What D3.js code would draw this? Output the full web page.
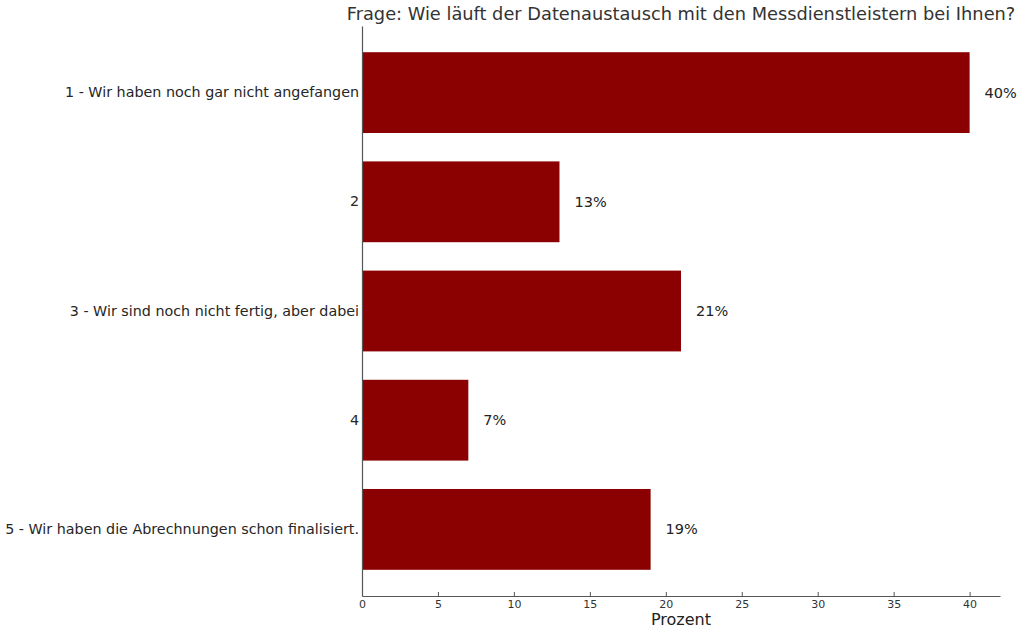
<!DOCTYPE html>
<html>
<head>
<meta charset="utf-8">
<script src="https://cdn.jsdelivr.net/npm/d3@7"></script>
<style>
  body { margin: 0; background: #fff; }
  text { font-family: "DejaVu Sans", sans-serif; }
</style>
</head>
<body>
<div id="chart"></div>
<script>
// data
var categories = [
    "1 - Wir haben noch gar nicht angefangen",
    "2",
    "3 - Wir sind noch nicht fertig, aber dabei",
    "4",
    "5 - Wir haben die Abrechnungen schon finalisiert."
];
var values = [40, 13, 21, 7, 19];
var xTicks = [0, 5, 10, 15, 20, 25, 30, 35, 40];

var svgWidth = 1024;
var svgHeight = 635;

var margin = { top: 26, right: 24, bottom: 39, left: 362 };
var width = svgWidth - margin.left - margin.right;
var height = svgHeight - margin.top - margin.bottom;

var svg = d3.select("#chart")
    .append("svg")
    .attr("width", svgWidth)
    .attr("height", svgHeight);

var chartGroup = svg.append("g")
    .attr("transform", `translate(${margin.left}, ${margin.top})`);

var xScale = d3.scaleLinear()
    .domain([0, 42])
    .range([0, width]);

var yScale = d3.scaleBand()
    .domain(categories)
    .range([0, height])
    .paddingInner(0.26)
    .paddingOuter(0.24);

// bars
chartGroup.selectAll("rect.bar")
    .data(values)
    .enter()
    .append("rect")
    .attr("class", "bar")
    .attr("x", xScale(0))
    .attr("y", (d, i) => yScale(categories[i]))
    .attr("width", d => xScale(d) - xScale(0))
    .attr("height", yScale.bandwidth())
    .attr("fill", "#8b0000");

// value labels
chartGroup.selectAll("text.val")
    .data(values)
    .enter()
    .append("text")
    .attr("class", "val")
    .attr("x", d => xScale(d) + 15)
    .attr("y", (d, i) => yScale(categories[i]) + yScale.bandwidth() / 2)
    .attr("dy", "0.35em")
    .style("font-size", "14.5px")
    .style("fill", "#222")
    .text(d => d + "%");

// x axis, ticks pointing in
var bottomAxis = d3.axisBottom(xScale)
    .tickValues(xTicks)
    .tickSizeInner(-4)
    .tickSizeOuter(0)
    .tickPadding(4);

var xAxis = chartGroup.append("g")
    .attr("transform", `translate(0, ${height})`)
    .call(bottomAxis);
xAxis.select(".domain").attr("stroke", "#555").attr("stroke-width", 1.2);
xAxis.selectAll(".tick line").attr("stroke", "#555");
xAxis.selectAll(".tick text")
    .style("font-size", "11px")
    .style("fill", "#333")
    .style("font-family", "DejaVu Sans");

// y axis
var leftAxis = d3.axisLeft(yScale)
    .tickSize(0)
    .tickPadding(3);

var yAxis = chartGroup.append("g").call(leftAxis);
yAxis.select(".domain").attr("stroke", "#555").attr("stroke-width", 1.2);
yAxis.selectAll(".tick text")
    .style("font-size", "14.3px")
    .style("fill", "#262626")
    .style("font-family", "DejaVu Sans");

// title
svg.append("text")
    .attr("x", margin.left + width / 2)
    .attr("y", 20)
    .attr("text-anchor", "middle")
    .style("font-size", "17.8px")
    .style("fill", "#333")
    .text("Frage: Wie läuft der Datenaustausch mit den Messdienstleistern bei Ihnen?");

// x label
svg.append("text")
    .attr("x", margin.left + width / 2)
    .attr("y", 625)
    .attr("text-anchor", "middle")
    .style("font-size", "16px")
    .style("fill", "#222")
    .text("Prozent");
</script>
</body>
</html>
